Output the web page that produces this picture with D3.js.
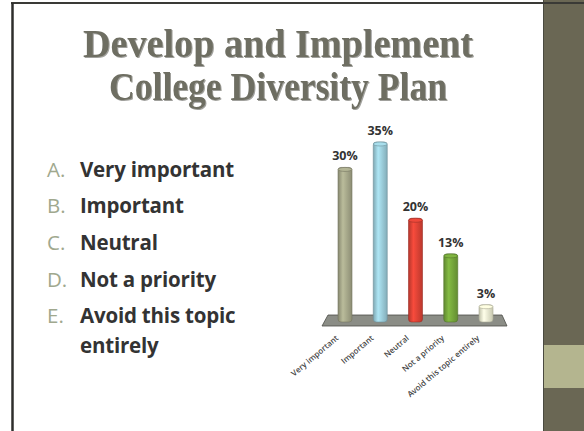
<!DOCTYPE html>
<html>
<head>
<meta charset="utf-8">
<script src="https://cdn.jsdelivr.net/npm/d3@7"></script>
<style>
  body { margin: 0; background: #fff; }
  svg { display: block; }
</style>
</head>
<body>
<div id="slide"></div>
<script>
// chart data
const categories = ["Very important", "Important", "Neutral", "Not a priority", "Avoid this topic entirely"];
const values = [30, 35, 20, 13, 3];
const letters = ["A.", "B.", "C.", "D.", "E."];
const listLines = [["Very important"], ["Important"], ["Neutral"], ["Not a priority"], ["Avoid this topic", "entirely"]];
const barColors = ["#a7a98b", "#9ccfdc", "#df4336", "#77a83c", "#eeefd2"];
const titleLines = ["Develop and Implement", "College Diversity Plan"];

const W = 584, H = 431;

const svg = d3.select("#slide").append("svg")
    .attr("width", W)
    .attr("height", H);

// slide frame
svg.append("rect").attr("width", W).attr("height", H).attr("fill", "#fff");
svg.append("rect").attr("x", 543).attr("y", 0).attr("width", 41).attr("height", H).attr("fill", "#6a6754");
svg.append("rect").attr("x", 544).attr("y", 345).attr("width", 40).attr("height", 43).attr("fill", "#b4b58f");
svg.append("line").attr("x1", 543.5).attr("x2", 543.5).attr("y1", 0).attr("y2", H).attr("stroke", "#4a4a40").attr("stroke-width", 1);
svg.append("line").attr("x1", 11).attr("x2", W).attr("y1", 3).attr("y2", 3).attr("stroke", "#3a3a36").attr("stroke-width", 2);
svg.append("line").attr("x1", 12.5).attr("x2", 12.5).attr("y1", 3).attr("y2", H).attr("stroke", "#2e2e2c").attr("stroke-width", 2.5);

// title
const defs = svg.append("defs");
const shadow = defs.append("filter").attr("id", "tshadow");
shadow.append("feDropShadow").attr("dx", 1).attr("dy", 1).attr("stdDeviation", 0.6).attr("flood-color", "#2a2a20").attr("flood-opacity", 0.45);

const titleWidths = [390, 338];
svg.selectAll(".title").data(titleLines).enter().append("text")
    .attr("class", "title")
    .attr("x", 278)
    .attr("y", (d, i) => 57 + i * 43)
    .attr("text-anchor", "middle")
    .attr("textLength", (d, i) => titleWidths[i])
    .attr("lengthAdjust", "spacingAndGlyphs")
    .attr("font-family", "'Liberation Serif', 'DejaVu Serif', serif")
    .attr("font-weight", "bold")
    .attr("font-size", 40)
    .attr("fill", "#6e6e62")
    .attr("filter", "url(#tshadow)")
    .text(d => d);

// answer list
const listY = [177, 213, 250, 287, 323];
const list = svg.append("g").attr("font-family", "'Open Sans', 'Liberation Sans', sans-serif");
list.selectAll(".letter").data(letters).enter().append("text")
    .attr("class", "letter")
    .attr("x", 47)
    .attr("y", (d, i) => listY[i])
    .attr("font-size", 20.5)
    .attr("fill", "#a0a88e")
    .text(d => d);
listLines.forEach((lines, i) => {
    lines.forEach((t, j) => {
        list.append("text")
            .attr("x", 80)
            .attr("y", listY[i] + j * 30)
            .attr("font-size", 20.5)
            .attr("font-weight", "bold")
            .attr("fill", "#333333")
            .attr("letter-spacing", "-0.2")
            .text(t);
    });
});

// bar chart
const x = d3.scalePoint().domain(categories).range([345, 486]);
const y = d3.scaleLinear().domain([0, 35]).range([322, 144]);
const barW = 14;

const chart = svg.append("g");

// floor
const fx0 = x.range()[0], fx1 = x.range()[1];
const floor = [[fx0 - 23, 326], [fx0 - 17, 315], [fx1 + 16, 315], [fx1 + 21, 326]];
chart.append("polygon")
    .attr("points", floor.map(p => p.join(",")).join(" "))
    .attr("fill", "#8b8d86")
    .attr("stroke", "#4b4d48")
    .attr("stroke-width", 0.8);

// cylinder gradients
barColors.forEach((c, i) => {
    const g = defs.append("linearGradient").attr("id", "bg" + i).attr("x1", 0).attr("x2", 1).attr("y1", 0).attr("y2", 0);
    g.append("stop").attr("offset", "0%").attr("stop-color", d3.color(c).darker(0.6));
    g.append("stop").attr("offset", "35%").attr("stop-color", d3.color(c).brighter(0.3));
    g.append("stop").attr("offset", "100%").attr("stop-color", d3.color(c).darker(0.5));
});

const bars = chart.selectAll(".bar").data(values).enter().append("g").attr("class", "bar");
bars.append("rect")
    .attr("x", (d, i) => x(categories[i]) - barW / 2)
    .attr("y", d => y(d) - 2)
    .attr("width", barW)
    .attr("height", d => y(0) - y(d) + 2)
    .attr("rx", 3)
    .attr("fill", (d, i) => "url(#bg" + i + ")")
    .attr("stroke", (d, i) => d3.color(barColors[i]).darker(1))
    .attr("stroke-width", 0.6);
bars.append("ellipse")
    .attr("cx", (d, i) => x(categories[i]))
    .attr("cy", d => y(d))
    .attr("rx", barW / 2)
    .attr("ry", 2)
    .attr("fill", (d, i) => d3.color(barColors[i]).brighter(0.2))
    .attr("stroke", (d, i) => d3.color(barColors[i]).darker(1))
    .attr("stroke-width", 0.6);

// value labels
chart.selectAll(".val").data(values).enter().append("text")
    .attr("class", "val")
    .attr("x", (d, i) => x(categories[i]))
    .attr("y", d => y(d) - 9)
    .attr("text-anchor", "middle")
    .attr("font-family", "'Open Sans', 'Liberation Sans', sans-serif")
    .attr("font-size", 12.5)
    .attr("font-weight", "bold")
    .attr("fill", "#333")
    .text(d => d + "%");

// category labels
chart.selectAll(".cat").data(categories).enter().append("text")
    .attr("class", "cat")
    .attr("transform", d => "translate(" + (x(d) - 6) + ",339) rotate(-40)")
    .attr("text-anchor", "end")
    .attr("font-family", "'Open Sans', 'Liberation Sans', sans-serif")
    .attr("font-size", 8)
    .attr("font-weight", "600")
    .attr("fill", "#444")
    .text(d => d);
</script>
</body>
</html>
